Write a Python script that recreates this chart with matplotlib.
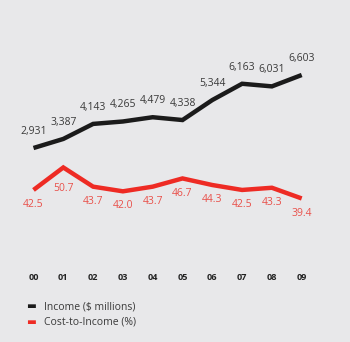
import numpy as np
import matplotlib
matplotlib.use('Agg')
import matplotlib.pyplot as plt

# data
years = ['00', '01', '02', '03', '04', '05', '06', '07', '08', '09']
income = [2931, 3387, 4143, 4265, 4479, 4338, 5344, 6163, 6031, 6603]
cost_to_income = [42.5, 50.7, 43.7, 42.0, 43.7, 46.7, 44.3, 42.5, 43.3, 39.4]

bg = '#e8e8ea'
black = '#1b1b1b'
red = '#ee2b24'

plt.rcParams['font.family'] = ['Open Sans', 'DejaVu Sans']

W, H = 350, 342
fig = plt.figure(figsize=(W / 100, H / 100), dpi=100, facecolor=bg)

# axes area in pixels: left 20, right 320, top 40, bottom 270
left, right, top, bottom = 20, 320, 40, 270
pos = [left / W, 1 - bottom / H, (right - left) / W, (bottom - top) / H]
ax = fig.add_axes(pos)
ax2 = fig.add_axes(pos)
for a in (ax, ax2):
    a.set_facecolor('none')
    for s in a.spines.values():
        s.set_visible(False)
    a.set_xlim(-0.453, 9.614)
ax.set_facecolor(bg)

x = np.arange(len(years))

ax.plot(x, income, color=black, lw=3.2, solid_joinstyle='miter', solid_capstyle='butt')
ax.set_ylim(-3206, 8364)
for xi, v in zip(x, income):
    ax.annotate(f'{v:,}', (xi, v), xytext=(0, 12), textcoords='offset points',
                ha='center', va='center', fontsize=7.5, color='#3a3a3a')

ax2.plot(x, cost_to_income, color=red, lw=3.2, solid_joinstyle='miter', solid_capstyle='butt')
ax2.set_ylim(13.3, 97.2)
for i, (xi, v) in enumerate(zip(x, cost_to_income)):
    off = -15 if i == 1 else -10.5
    ax2.annotate(f'{v:.1f}', (xi, v), xytext=(0, off), textcoords='offset points',
                 ha='center', va='center', fontsize=7.5, color='#e8504a')

ax.set_yticks([])
ax2.set_yticks([])
ax2.set_xticks([])
ax.set_xticks(x)
ax.set_xticklabels(years, fontsize=6.5, fontweight='bold', color='#222222')
ax.tick_params(axis='x', length=0, pad=2.5)

# legend
fig.text(26 / W, 1 - 307 / H, '\u25ac', color=black, fontsize=7.5, va='center')
fig.text(26 / W, 1 - 322 / H, '\u25ac', color=red, fontsize=7.5, va='center')
fig.text(44 / W, 1 - 307 / H, 'Income ($ millions)', color='#3a3a3a', fontsize=7.5, va='center')
fig.text(44 / W, 1 - 322 / H, 'Cost-to-Income (%)', color='#3a3a3a', fontsize=7.5, va='center')

fig.savefig('out.png', dpi=100, facecolor=bg)
